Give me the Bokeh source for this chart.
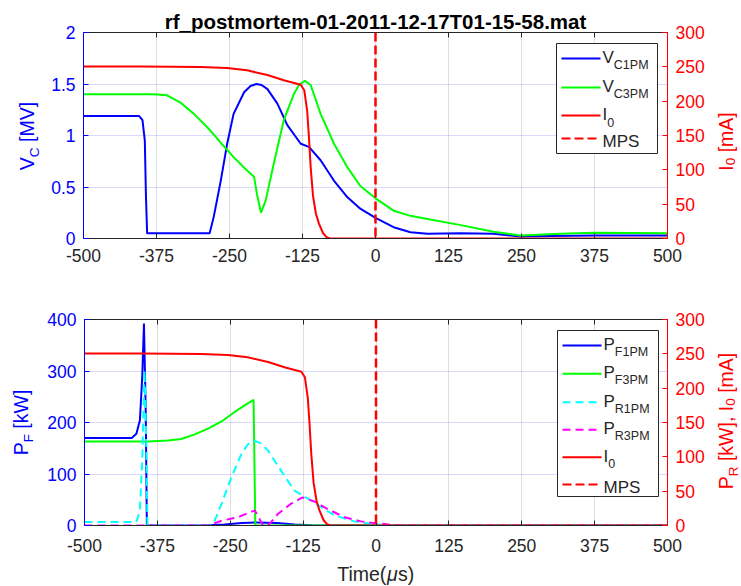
import numpy as np
from bokeh.plotting import figure
from bokeh.models import (Range1d, LinearAxis, FixedTicker, CustomJSTickFormatter,
                          Span, Label, BoxAnnotation, Arrow)
from bokeh.layouts import column, row
from bokeh.embed import file_html
from bokeh.resources import INLINE

# ---------------- data ----------------
x_ticks = [-500, -375, -250, -125, 0, 125, 250, 375, 500]
vc_ticks = [0, 0.5, 1, 1.5, 2]
pf_ticks = [0, 100, 200, 300, 400]
right_ticks = [0, 50, 100, 150, 200, 250, 300]

title_text = "rf_postmortem-01-2011-12-17T01-15-58.mat"

# V_C1PM [MV]
t_vc1 = [-500, -405, -399, -395, -393, -391, -284, -277, -265, -254, -243, -225, -214, -204,
         -195, -185, -168, -151, -128, -114, -94, -71, -48, -26, 0, 31, 60, 89, 146, 202,
         248, 300, 375, 500]
vc1pm = [1.19, 1.19, 1.15, 0.95, 0.40, 0.05, 0.05, 0.21, 0.56, 0.92, 1.21, 1.42, 1.48, 1.50,
         1.49, 1.45, 1.31, 1.10, 0.92, 0.89, 0.76, 0.56, 0.40, 0.29, 0.20, 0.11, 0.06, 0.045,
         0.05, 0.045, 0.02, 0.025, 0.03, 0.03]

# V_C3PM [MV]
t_vc3 = [-500, -380, -357, -334, -311, -288, -265, -243, -220, -208, -203, -196, -188, -174,
         -157, -140, -131, -121, -111, -94, -71, -48, -26, 0, 31, 60, 89, 146, 202, 248, 317,
         374, 500]
vc3pm = [1.40, 1.40, 1.39, 1.32, 1.21, 1.08, 0.93, 0.79, 0.66, 0.60, 0.43, 0.25, 0.37, 0.73,
         1.15, 1.40, 1.49, 1.53, 1.49, 1.21, 0.92, 0.69, 0.51, 0.39, 0.27, 0.22, 0.19, 0.13,
         0.065, 0.03, 0.045, 0.055, 0.05]

# I_0 [mA]
t_i0 = [-500, -400, -300, -254, -220, -185, -157, -128, -122, -117, -114, -111, -107, -102,
        -97, -90, -84, -78, 500]
i0 = [250.5, 250.5, 249.8, 248.3, 245.0, 238.0, 230.5, 224.0, 216.0, 186.0, 148.0, 104.0,
      62.0, 36.0, 22.0, 8.0, 2.0, 0.0, 0.0]

# P_F1PM [kW]
t_pf1 = [-500, -419, -411, -405, -401, -398, -395, -393, -300, -260, -230, -205, -170, -140,
         -110, -90, 500]
pf1pm = [170, 170, 178, 204, 288, 392, 223, 0, 0, 2, 5, 6, 5, 2, 0.5, 0, 0]

# P_F3PM [kW]
t_pf3 = [-500, -391, -357, -334, -311, -288, -265, -243, -220, -210, -207, 500]
pf3pm = [163, 163, 165, 168, 177, 188, 202, 220, 237, 244, 0, 0]

# P_R1PM [kW]
t_pr1 = [-500, -411, -405, -401, -397, -394, -392, -280, -265, -248, -231, -220, -208, -198,
         -185, -163, -140, -117, -94, -71, -37, -3, 20, 500]
pr1pm = [5, 5, 22, 95, 226, 119, 0, 0, 31.6, 70, 104, 118, 123, 120, 109, 80, 51, 39, 26.7,
         14.6, 6, 2, 0, 0]

# P_R3PM [kW]
t_pr3 = [-500, -288, -265, -237, -208, -203, -194, -185, -168, -146, -126, -106, -83, -54,
         -26, 3, 40, 500]
pr3pm = [0, 0, 7, 12, 22, 14.6, 0, 0, 17, 31.6, 41, 35, 24, 12, 6, 3, 0, 0]

mps_time = [0.0]

# ---------------- styling ----------------
FONT = "Liberation Sans"
BLUE, GREEN, RED, CYAN, MAG, DARK = "#0000ff", "#00ff00", "#ff0000", "#00ffff", "#ff00ff", "#262626"

W = {'V': .667, 'C': .722, '[': .278, ']': .278, 'M': .833, 'I': .278, '0': .556, '1': .556,
     '3': .556, 'm': .833, 'A': .667, 'P': .667, 'F': .611, 'R': .722, 'k': .5, 'W': .944,
     ',': .278, ' ': .278, 'S': .667, 'T': .611, 'i': .222, 'e': .556, '(': .333, ')': .333,
     's': .5, 'μ': .576}
MID = 0.35   # baseline -> middle of text box, em
ASC = 0.905  # baseline -> top of text box, em


def tw(s, size):
    return sum(W.get(c, 0.556) for c in s) * size


def style_axis(ax, ticks, color, label_color, standoff=8, blank=False):
    ax.ticker = FixedTicker(ticks=ticks)
    ax.formatter = CustomJSTickFormatter(code="return '';" if blank else "return tick.toString();")
    ax.major_tick_in = 5
    ax.major_tick_out = 0
    ax.minor_tick_line_color = None
    ax.major_tick_line_color = color
    ax.axis_line_color = color
    ax.axis_line_width = 1
    ax.major_label_text_color = label_color
    ax.major_label_text_font = FONT
    ax.major_label_text_font_size = "0px" if blank else "17.5px"
    ax.major_label_standoff = standoff


def make_fig(height, top, bottom, yr, yticks, xstand, title=None):
    p = figure(width=668, height=height, x_range=Range1d(-500, 500), y_range=Range1d(*yr),
               output_backend="svg", toolbar_location=None, title=title,
               min_border_left=39, min_border_right=45, min_border_top=top,
               min_border_bottom=bottom)
    p.outline_line_color = None
    p.background_fill_color = "white"
    p.border_fill_color = "white"
    p.extra_y_ranges = {"right": Range1d(0, 300)}
    style_axis(p.xaxis[0], x_ticks, DARK, DARK, standoff=xstand)
    style_axis(p.yaxis[0], yticks, BLUE, BLUE)
    ra = LinearAxis(y_range_name="right")
    style_axis(ra, right_ticks, RED, RED)
    p.add_layout(ra, "right")
    ta = LinearAxis()
    style_axis(ta, x_ticks, DARK, DARK, standoff=0, blank=True)
    p.add_layout(ta, "above")
    p.xgrid.ticker = FixedTicker(ticks=x_ticks)
    p.xgrid.grid_line_color = DARK
    p.xgrid.grid_line_alpha = 0.15
    p.ygrid.ticker = FixedTicker(ticks=yticks)
    p.ygrid.grid_line_color = BLUE
    p.ygrid.grid_line_alpha = 0.15
    return p


def strip(w, h):
    s = figure(width=w, height=h, x_range=Range1d(0, 1), y_range=Range1d(0, 1),
               output_backend="svg", toolbar_location=None, title=None, min_border=0,
               x_axis_type=None, y_axis_type=None)
    s.outline_line_color = None
    s.background_fill_color = "white"
    s.border_fill_color = "white"
    return s


def put(p, org, cx, cy, text, size, color, angle=0.0, style="normal",
        align="center", baseline="middle"):
    ox, oy = org
    p.add_layout(Label(x=cx - ox, y=oy - cy, x_units="screen", y_units="screen", text=text,
                       text_font=FONT, text_font_size=f"{size}px", text_color=color,
                       text_align=align, text_baseline=baseline, angle=angle,
                       text_font_style=style))


def hlabel(p, org, x, y, pieces, color, smain, ssub, drop):
    # x: left start, y: baseline of main text
    cx = x
    for piece in pieces:
        text, sub = piece[0], piece[1]
        style = piece[2] if len(piece) > 2 else "normal"
        size = ssub if sub else smain
        lead = len(text) - len(text.lstrip(' '))
        cx += tw(' ' * lead, size)
        t = text.strip(' ')
        if t:
            w = tw(t, size)
            base = y + (drop if sub else 0)
            put(p, org, cx + w / 2, base - MID * size, t, size, color, style=style)
            cx += w


def vlabel(p, org, xb, ycenter, pieces, color, smain, ssub, shift):
    # rotated 90deg: text reads bottom-to-top, baseline at x = xb
    total = sum(tw(t, ssub if s else smain) for t, s in pieces)
    cy = ycenter + total / 2
    for text, sub in pieces:
        size = ssub if sub else smain
        lead = len(text) - len(text.lstrip(' '))
        cy -= tw(' ' * lead, size)
        t = text.strip(' ')
        if t:
            w = tw(t, size)
            bx = xb + (shift if sub else 0)
            put(p, org, bx - ASC * size, cy, t, size, color, angle=np.pi / 2,
                align="left", baseline="top")
            cy -= w


def legend(p, org, box, rows):
    ox, oy = org
    l, r, t, b = box
    p.add_layout(BoxAnnotation(left=l - ox, right=r - ox, top=oy - t, bottom=oy - b,
                               left_units="screen", right_units="screen",
                               top_units="screen", bottom_units="screen",
                               fill_color="white", fill_alpha=1.0,
                               line_color=DARK, line_width=1, line_alpha=1.0))
    for ly, main, sub, color, dash in rows:
        p.add_layout(Arrow(x_start=561 - ox, y_start=oy - ly, x_end=600 - ox, y_end=oy - ly,
                           start_units="screen", end_units="screen", start=None, end=None,
                           line_color=color, line_width=2,
                           line_dash=dash if dash else "solid"))
        pcs = [(main, False)] + ([(sub, True)] if sub else [])
        base = ly + (5 if sub else 8.5)
        hlabel(p, org, 602, base, pcs, DARK, 17, 12.5, 6)


# ---------------- top panel ----------------
ORG1 = (83, 238)
p1 = make_fig(280, 32, 42, (0, 2), vc_ticks, 10, title=title_text)
p1.title.text_font = FONT
p1.title.text_font_size = "20.5px"
p1.title.text_font_style = "bold"
p1.title.text_color = "#000000"
p1.title.align = "center"
p1.title.standoff = 0
p1.line(t_vc1, vc1pm, line_color=BLUE, line_width=2)
p1.line(t_vc3, vc3pm, line_color=GREEN, line_width=2)
p1.line(t_i0, i0, line_color=RED, line_width=2, y_range_name="right")
p1.add_layout(Span(location=mps_time[0], dimension="height", line_color=RED,
                   line_dash="9 4", line_width=2.5))
legend(p1, ORG1, (556, 657, 43, 153), [
    (58, "V", "C1PM", BLUE, None),
    (87, "V", "C3PM", GREEN, None),
    (115, "I", "0", RED, None),
    (138, "MPS", "", RED, "9 4"),
])
# side strips share the plot's frame rows (frames are aligned within a row)
l1 = strip(44, 280)
vlabel(l1, (0, 238), 33, 135.5, [("V", False), ("C", True), (" [MV]", False)],
       BLUE, 19.5, 13.5, 5.5)
r1 = strip(29, 280)
vlabel(r1, (712, 238), 732, 141, [("I", False), ("0", True), (" [mA]", False)],
       RED, 19.5, 13.5, 5.5)

# ---------------- bottom panel ----------------
ORG2 = (83, 525)
p2 = make_fig(282, 39, 37, (0, 400), pf_ticks, 13)
p2.line(t_pf1, pf1pm, line_color=BLUE, line_width=2)
p2.line(t_pf3, pf3pm, line_color=GREEN, line_width=2)
p2.line(t_pr1, pr1pm, line_color=CYAN, line_width=2, line_dash="8 5", y_range_name="right")
p2.line(t_pr3, pr3pm, line_color=MAG, line_width=2, line_dash="8 5", y_range_name="right")
p2.line(t_i0, i0, line_color=RED, line_width=2, y_range_name="right")
p2.add_layout(Span(location=mps_time[0], dimension="height", line_color=RED,
                   line_dash="9 4", line_width=2.5))
legend(p2, ORG2, (556, 657, 330, 496), [
    (345, "P", "F1PM", BLUE, None),
    (373.3, "P", "F3PM", GREEN, None),
    (401.7, "P", "R1PM", CYAN, "8 5"),
    (429.3, "P", "R3PM", MAG, "8 5"),
    (456.7, "I", "0", RED, None),
    (484, "MPS", "", RED, "9 4"),
])
l2 = strip(44, 282)
vlabel(l2, (0, 525), 27.5, 422, [("P", False), ("F", True), (" [kW]", False)],
       BLUE, 19.5, 13.5, 5.5)
r2 = strip(29, 282)
vlabel(r2, (712, 525), 732, 420.5, [("P", False), ("R", True), (" [kW], I", False),
                                    ("0", True), (" [mA]", False)], RED, 19.5, 13.5, 5.5)

# ---------------- x label strip ----------------
time_fig = strip(741, 24)
tl_w = tw("Time(", 19.5) + tw("μ", 19.5) + tw("s)", 19.5)
hlabel(time_fig, (0, 586), 375 - tl_w / 2, 580,
       [("Time(", False), ("μ", False, "italic"), ("s)", False)], DARK, 19.5, 13.5, 0)

layout = column(row(l1, p1, r1), row(l2, p2, r2), time_fig)
open("out.html", "w").write(file_html(layout, INLINE))
